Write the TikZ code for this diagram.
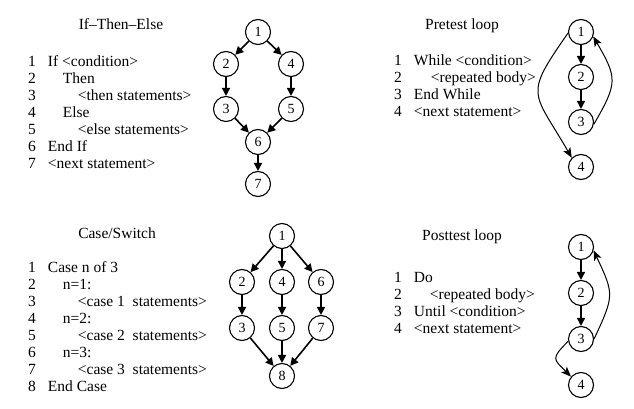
\documentclass[tikz,border=0pt]{standalone}
\usepackage{fontspec}
\setmainfont{Liberation Serif}
\usetikzlibrary{arrows.meta}
\begin{document}
\begin{tikzpicture}[x=1pt,y=1pt,
  vtx/.style={circle,draw,line width=1.1pt,minimum size=25pt,inner sep=0pt,font=\fontsize{14}{14}\selectfont},
  arr/.style={line width=1.6pt,-{Triangle[width=8pt,length=8pt]}},
  lp/.style={line width=1pt,-{Stealth[width=8pt,length=10pt,inset=2.5pt]}},
  ttl/.style={font=\fontsize{15.5}{17}\selectfont,anchor=base,inner sep=0pt},
  code/.style={font=\fontsize{15.5}{17}\selectfont,anchor=base west,inner sep=0pt}]
\useasboundingbox (0,0) rectangle (634,-409);

% ---------- If-Then-Else ----------
\node[ttl] (tA) at (121,-30) {If–Then–Else};
\node[code] (cA) at (28,-66.5) {\begin{tabular}[t]{@{}l@{\hspace{12pt}}l@{}}
1 & If <condition>\\
2 & \hspace{15pt}Then\\
3 & \hspace{30pt}<then statements>\\
4 & \hspace{15pt}Else\\
5 & \hspace{30pt}<else statements>\\
6 & End If\\
7 & <next statement>
\end{tabular}};
\node[vtx] (a1) at (258,-32) {1};
\node[vtx] (a2) at (226,-64) {2};
\node[vtx] (a4) at (291,-64) {4};
\node[vtx] (a3) at (226,-109) {3};
\node[vtx] (a5) at (291,-109) {5};
\node[vtx] (a6) at (258,-142) {6};
\node[vtx] (a7) at (258,-184) {7};
\draw[arr] (a1) -- (a2);
\draw[arr] (a1) -- (a4);
\draw[arr] (a2) -- (a3);
\draw[arr] (a4) -- (a5);
\draw[arr] (a3) -- (a6);
\draw[arr] (a5) -- (a6);
\draw[arr] (a6) -- (a7);

% ---------- Pretest loop ----------
\node[ttl] (tC) at (462,-30) {Pretest loop};
\node[code] (cC) at (394,-65.5) {\begin{tabular}[t]{@{}l@{\hspace{12pt}}l@{}}
1 & While <condition>\\
2 & \hspace{17pt}<repeated body>\\
3 & End While\\
4 & <next statement>
\end{tabular}};
\node[vtx] (c1) at (581,-32) {1};
\node[vtx] (c2) at (581,-77) {2};
\node[vtx] (c3) at (581,-122) {3};
\node[vtx] (c4) at (581,-167) {4};
\draw[arr] (c1) -- (c2);
\draw[arr] (c2) -- (c3);
\draw[lp] (c1.185) to[out=235,in=120,looseness=1.6] (c4.135);
\draw[lp] (c3.-10) to[out=60,in=-60,looseness=1.4] (c1.-20);

% ---------- Case/Switch ----------
\node[ttl] (tB) at (117,-238) {Case/Switch};
\node[code] (cB) at (28,-272.5) {\begin{tabular}[t]{@{}l@{\hspace{12pt}}l@{}}
1 & Case n of 3\\
2 & \hspace{15pt}n=1:\\
3 & \hspace{30pt}<case 1~ statements>\\
4 & \hspace{15pt}n=2:\\
5 & \hspace{30pt}<case 2~ statements>\\
6 & \hspace{15pt}n=3:\\
7 & \hspace{30pt}<case 3~ statements>\\
8 & End Case
\end{tabular}};
\node[vtx] (b1) at (282,-236) {1};
\node[vtx] (b2) at (242,-282) {2};
\node[vtx] (b4) at (282,-282) {4};
\node[vtx] (b6) at (321,-282) {6};
\node[vtx] (b3) at (242,-328) {3};
\node[vtx] (b5) at (282,-328) {5};
\node[vtx] (b7) at (321,-328) {7};
\node[vtx] (b8) at (282,-376) {8};
\draw[arr] (b1) -- (b2);
\draw[arr] (b1) -- (b4);
\draw[arr] (b1) -- (b6);
\draw[arr] (b2) -- (b3);
\draw[arr] (b4) -- (b5);
\draw[arr] (b6) -- (b7);
\draw[arr] (b3) -- (b8);
\draw[arr] (b5) -- (b8);
\draw[arr] (b7) -- (b8);

% ---------- Posttest loop ----------
\node[ttl] (tD) at (462,-240) {Posttest loop};
\node[code] (cD) at (394,-282.5) {\begin{tabular}[t]{@{}l@{\hspace{12pt}}l@{}}
1 & Do\\
2 & \hspace{16pt}<repeated body>\\
3 & Until <condition>\\
4 & <next statement>
\end{tabular}};
\node[vtx] (d1) at (581,-247) {1};
\node[vtx] (d2) at (581,-293) {2};
\node[vtx] (d3) at (581,-339) {3};
\node[vtx] (d4) at (581,-385) {4};
\draw[arr] (d1) -- (d2);
\draw[arr] (d2) -- (d3);
\draw[lp] (d3.0) to[out=65,in=-65,looseness=1.4] (d1.-15);
\draw[lp] (d3.190) to[out=225,in=135,looseness=1.8] (d4.140);
\end{tikzpicture}
\end{document}
